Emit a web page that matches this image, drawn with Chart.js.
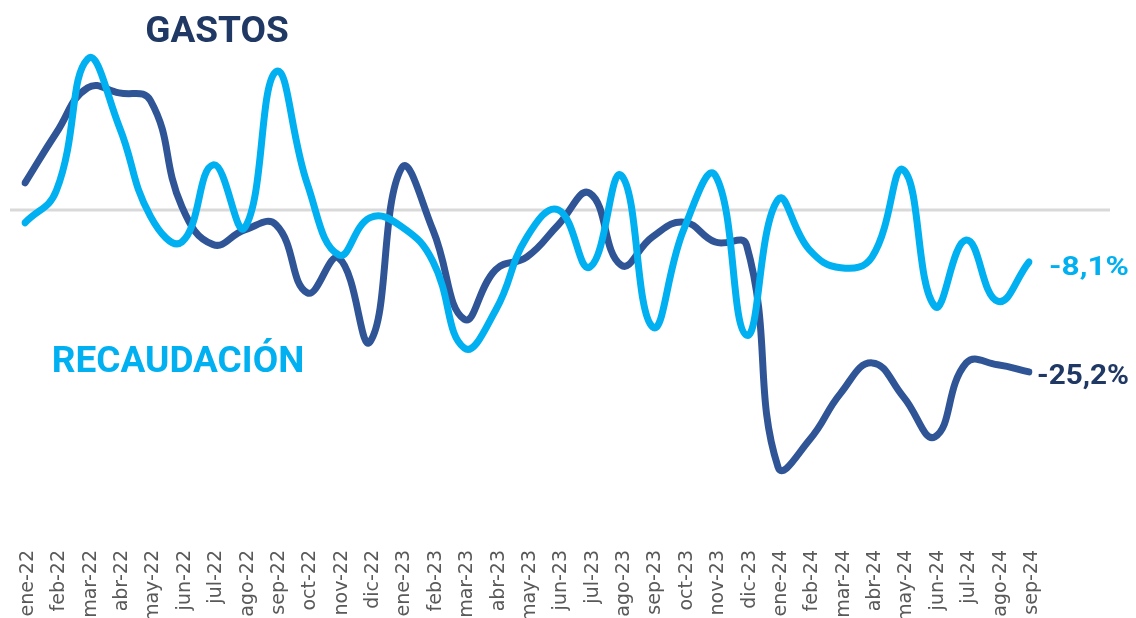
<!DOCTYPE html>
<html lang="es">
  <head>
    <meta charset="utf-8">
    <title>Gastos y recaudación</title>
    <script src="https://cdn.jsdelivr.net/npm/chart.js@4.4.1/dist/chart.umd.min.js"></script>
    <style>
      body { margin: 0; background: #fff; }
    </style>
  </head>
  <body>
    <canvas id="chart" width="1136" height="618"></canvas>

  <script>
    // months on the x axis
    var meses = ["ene-22","feb-22","mar-22","abr-22","may-22","jun-22","jul-22","ago-22","sep-22","oct-22","nov-22","dic-22",
                 "ene-23","feb-23","mar-23","abr-23","may-23","jun-23","jul-23","ago-23","sep-23","oct-23","nov-23","dic-23",
                 "ene-24","feb-24","mar-24","abr-24","may-24","jun-24","jul-24","ago-24","sep-24"];

    // % variation
    var recaudacion = [-2.0, 3.0, 23.5, 13.0, -1.0, -5.0, 7.0, -2.8, 21.5, 4.0, -7.0, -1.2,
                       -2.6, -8.0, -21.5, -15.6, -4.2, 0.0, -8.9, 5.4, -18.2, -3.0, 5.4, -19.5,
                       1.6, -6.2, -9.0, -7.3, 6.2, -15.0, -4.7, -14.2, -8.1];
    var gastos = [4.2, 12.0, 19.0, 18.2, 17.0, 0.5, -5.4, -3.1, -2.3, -12.9, -7.5, -20.5,
                  6.5, -3.1, -17.0, -9.3, -7.3, -2.3, 2.6, -8.6, -4.2, -1.9, -5.0, -5.5,
                  -40.0, -35.8, -28.5, -23.8, -29.1, -35.3, -23.8, -24.1, -25.2];

    var etiquetaRec = "-8,1%";
    var etiquetaGas = "-25,2%";

    var azulClaro = "#00B0F0";
    var azulOscuro = "#2F5597";
    var azulTexto = "#203864";

    // text drawn a bit wider than the font, like the original
    function textoAncho(ctx, txt, x, y, ancho) {
      var w = ctx.measureText(txt).width;
      ctx.save();
      ctx.translate(x, y);
      ctx.scale(ancho / w, 1);
      ctx.fillText(txt, 0, 0);
      ctx.restore();
    }

    // zero line + text labels
    var extras = {
      id: "extras",
      beforeDatasetsDraw: function(chart) {
        var ctx = chart.ctx;
        var y0 = chart.scales.y.getPixelForValue(0);
        ctx.save();
        ctx.strokeStyle = "#D9D9D9";
        ctx.lineWidth = 3;
        ctx.beginPath();
        ctx.moveTo(chart.chartArea.left - 15, y0);
        ctx.lineTo(chart.chartArea.right + 81, y0);
        ctx.stroke();
        ctx.restore();
      },
      afterDatasetsDraw: function(chart) {
        var ctx = chart.ctx;
        ctx.save();
        ctx.textBaseline = "alphabetic";
        ctx.textAlign = "center";
        ctx.font = "bold 37px Roboto";
        ctx.fillStyle = azulTexto;
        ctx.fillText("GASTOS", 217, 42);
        ctx.fillStyle = azulClaro;
        ctx.fillText("RECAUDACIÓN", 178, 372);

        var pRec = chart.getDatasetMeta(0).data[recaudacion.length - 1];
        var pGas = chart.getDatasetMeta(1).data[gastos.length - 1];
        ctx.textAlign = "left";
        ctx.textBaseline = "alphabetic";
        ctx.font = "bold 26px Roboto";
        ctx.fillStyle = azulClaro;
        textoAncho(ctx, etiquetaRec, pRec.x + 20, pRec.y + 13, 80);
        ctx.font = "bold 28px Roboto";
        ctx.fillStyle = azulTexto;
        textoAncho(ctx, etiquetaGas, pGas.x + 8, pGas.y + 12, 92);
        ctx.restore();
      }
    };

    new Chart(document.getElementById("chart"), {
      type: "line",
      data: {
        labels: meses,
        datasets: [
          {
            label: "RECAUDACIÓN",
            data: recaudacion,
            borderColor: azulClaro,
            borderWidth: 7,
            pointRadius: 0,
            tension: 0.45,
            borderCapStyle: "round",
            borderJoinStyle: "round"
          },
          {
            label: "GASTOS",
            data: gastos,
            borderColor: azulOscuro,
            borderWidth: 7,
            pointRadius: 0,
            tension: 0.45,
            borderCapStyle: "round",
            borderJoinStyle: "round"
          }
        ]
      },
      options: {
        responsive: false,
        animation: false,
        layout: { padding: { left: 25, right: 107, top: 10, bottom: 0 } },
        plugins: {
          legend: { display: false },
          tooltip: { enabled: false }
        },
        scales: {
          x: {
            offset: false,
            grid: { display: false, drawTicks: false },
            border: { display: false },
            ticks: {
              autoSkip: false,
              maxRotation: 90,
              minRotation: 90,
              padding: 2,
              labelOffset: 3,
              color: "#595959",
              font: { family: "DejaVu Sans", size: 19 }
            },
            afterFit: function(scale) { scale.height = 70; }
          },
          y: {
            display: false,
            min: -52.6,
            max: 31.1
          }
        }
      },
      plugins: [extras]
    });
  </script>
  </body>
</html>
